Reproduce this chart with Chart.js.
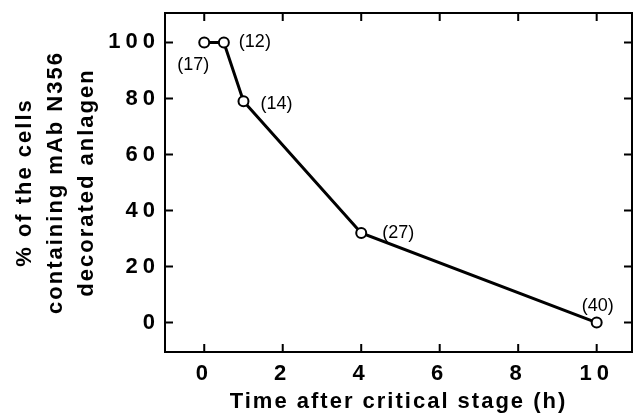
<!DOCTYPE html>
<html>
<head>
<meta charset="utf-8">
<script src="https://cdn.jsdelivr.net/npm/chart.js@4.4.1/dist/chart.umd.min.js"></script>
<style>
  html, body { margin: 0; padding: 0; background: #fff; overflow: hidden; }
  /* a bit wider than the window: the figure's box runs right up to the edge */
  #wrap { width: 639px; height: 416px; }
</style>
</head>
<body>
<div id="wrap"><canvas id="grafico"></canvas></div>
<script>
  // data
  const timeHours = [0, 0.5, 1, 4, 10];
  const percentDecorated = [100, 100, 79, 32, 0];
  const cellCounts = [17, 12, 14, 27, 40];
  const xTickValues = [0, 2, 4, 6, 8, 10];
  const yTickValues = [0, 20, 40, 60, 80, 100];

  const black = "#000";
  const fontFam = "'Liberation Sans', Arial, Helvetica, sans-serif";

  // where each "(n)" goes relative to its point
  const labelOffsets = [[-11, 23], [15, 0], [17, 3], [21, 0], [1, -17]];
  const labelAlign = ["center", "left", "left", "left", "center"];

  // the old figure uses wide letter spacing, so wrap the scale text drawing
  function spaced(fn, sp) {
    return function (...args) {
      const c = this.ctx;
      c.save();
      c.letterSpacing = sp;
      fn.apply(this, args);
      c.restore();
    };
  }
  const spacingPlugin = {
    id: "spacing",
    afterLayout(chart) {
      Object.values(chart.scales).forEach((s) => {
        if (s._spaced) return;
        s._spaced = true;
        s.drawLabels = spaced(s.drawLabels, "5px");
        s.drawTitle = spaced(s.drawTitle, "2px");
      });
    },
  };

  // box + inward ticks on all four sides
  const boxPlugin = {
    id: "boxTicks",
    afterDraw(chart) {
      const { ctx, chartArea: a, scales } = chart;
      ctx.save();
      ctx.strokeStyle = black;
      ctx.lineWidth = 2;
      ctx.strokeRect(a.left, a.top, a.right - a.left, a.bottom - a.top);
      const len = 8;
      ctx.beginPath();
      xTickValues.forEach((v) => {
        const px = scales.x.getPixelForValue(v);
        ctx.moveTo(px, a.bottom);
        ctx.lineTo(px, a.bottom - len);
        ctx.moveTo(px, a.top);
        ctx.lineTo(px, a.top + len);
      });
      yTickValues.forEach((v) => {
        const py = scales.y.getPixelForValue(v);
        ctx.moveTo(a.left, py);
        ctx.lineTo(a.left + len, py);
        ctx.moveTo(a.right, py);
        ctx.lineTo(a.right - len, py);
      });
      ctx.stroke();
      ctx.restore();
    },
  };

  const countPlugin = {
    id: "counts",
    afterDatasetsDraw(chart) {
      const { ctx } = chart;
      const pts = chart.getDatasetMeta(0).data;
      ctx.save();
      ctx.fillStyle = black;
      ctx.font = "18px " + fontFam;
      ctx.textBaseline = "middle";
      pts.forEach((p, i) => {
        ctx.textAlign = labelAlign[i];
        ctx.fillText("(" + cellCounts[i] + ")", p.x + labelOffsets[i][0], p.y + labelOffsets[i][1]);
      });
      ctx.restore();
    },
  };

  const ctx = document.getElementById("grafico").getContext("2d");
  new Chart(ctx, {
    type: "line",
    data: {
      datasets: [
        {
          data: timeHours.map((t, i) => ({ x: t, y: percentDecorated[i] })),
          borderColor: black,
          borderWidth: 3,
          pointRadius: 5,
          pointBorderWidth: 2,
          pointBackgroundColor: "#fff",
          pointBorderColor: black,
          tension: 0,
        },
      ],
    },
    options: {
      responsive: true,
      maintainAspectRatio: false,
      animation: false,
      layout: { padding: { left: 0, top: 13, right: 2, bottom: 0 } },
      plugins: { legend: { display: false }, tooltip: { enabled: false } },
      scales: {
        x: {
          type: "linear",
          min: -1,
          max: 10.9,
          afterBuildTicks: (s) => { s.ticks = xTickValues.map((v) => ({ value: v })); },
          afterFit: (s) => { s.height = 64; s.paddingLeft = 0; s.paddingRight = 0; },
          grid: { display: false, drawTicks: false },
          border: { display: false },
          ticks: { color: black, padding: 9, font: { family: fontFam, size: 22, weight: "bold" } },
          title: {
            display: true,
            text: "Time after critical stage (h)",
            color: black,
            padding: { top: 0, bottom: 1 },
            font: { family: fontFam, size: 22, weight: "bold" },
          },
        },
        y: {
          type: "linear",
          min: -10.5,
          max: 110.5,
          afterBuildTicks: (s) => { s.ticks = yTickValues.map((v) => ({ value: v })); },
          afterFit: (s) => { s.width = 165; s.paddingTop = 0; s.paddingBottom = 0; },
          grid: { display: false, drawTicks: false },
          border: { display: false },
          ticks: { color: black, padding: 5, font: { family: fontFam, size: 22, weight: "bold" } },
          title: {
            display: true,
            text: ["% of the cells", "containing mAb N356", "decorated anlagen"],
            color: black,
            padding: { top: 10, bottom: 0 },
            font: { family: fontFam, size: 22, weight: "bold", lineHeight: 1.4 },
          },
        },
      },
    },
    plugins: [spacingPlugin, boxPlugin, countPlugin],
  });
</script>
</body>
</html>
